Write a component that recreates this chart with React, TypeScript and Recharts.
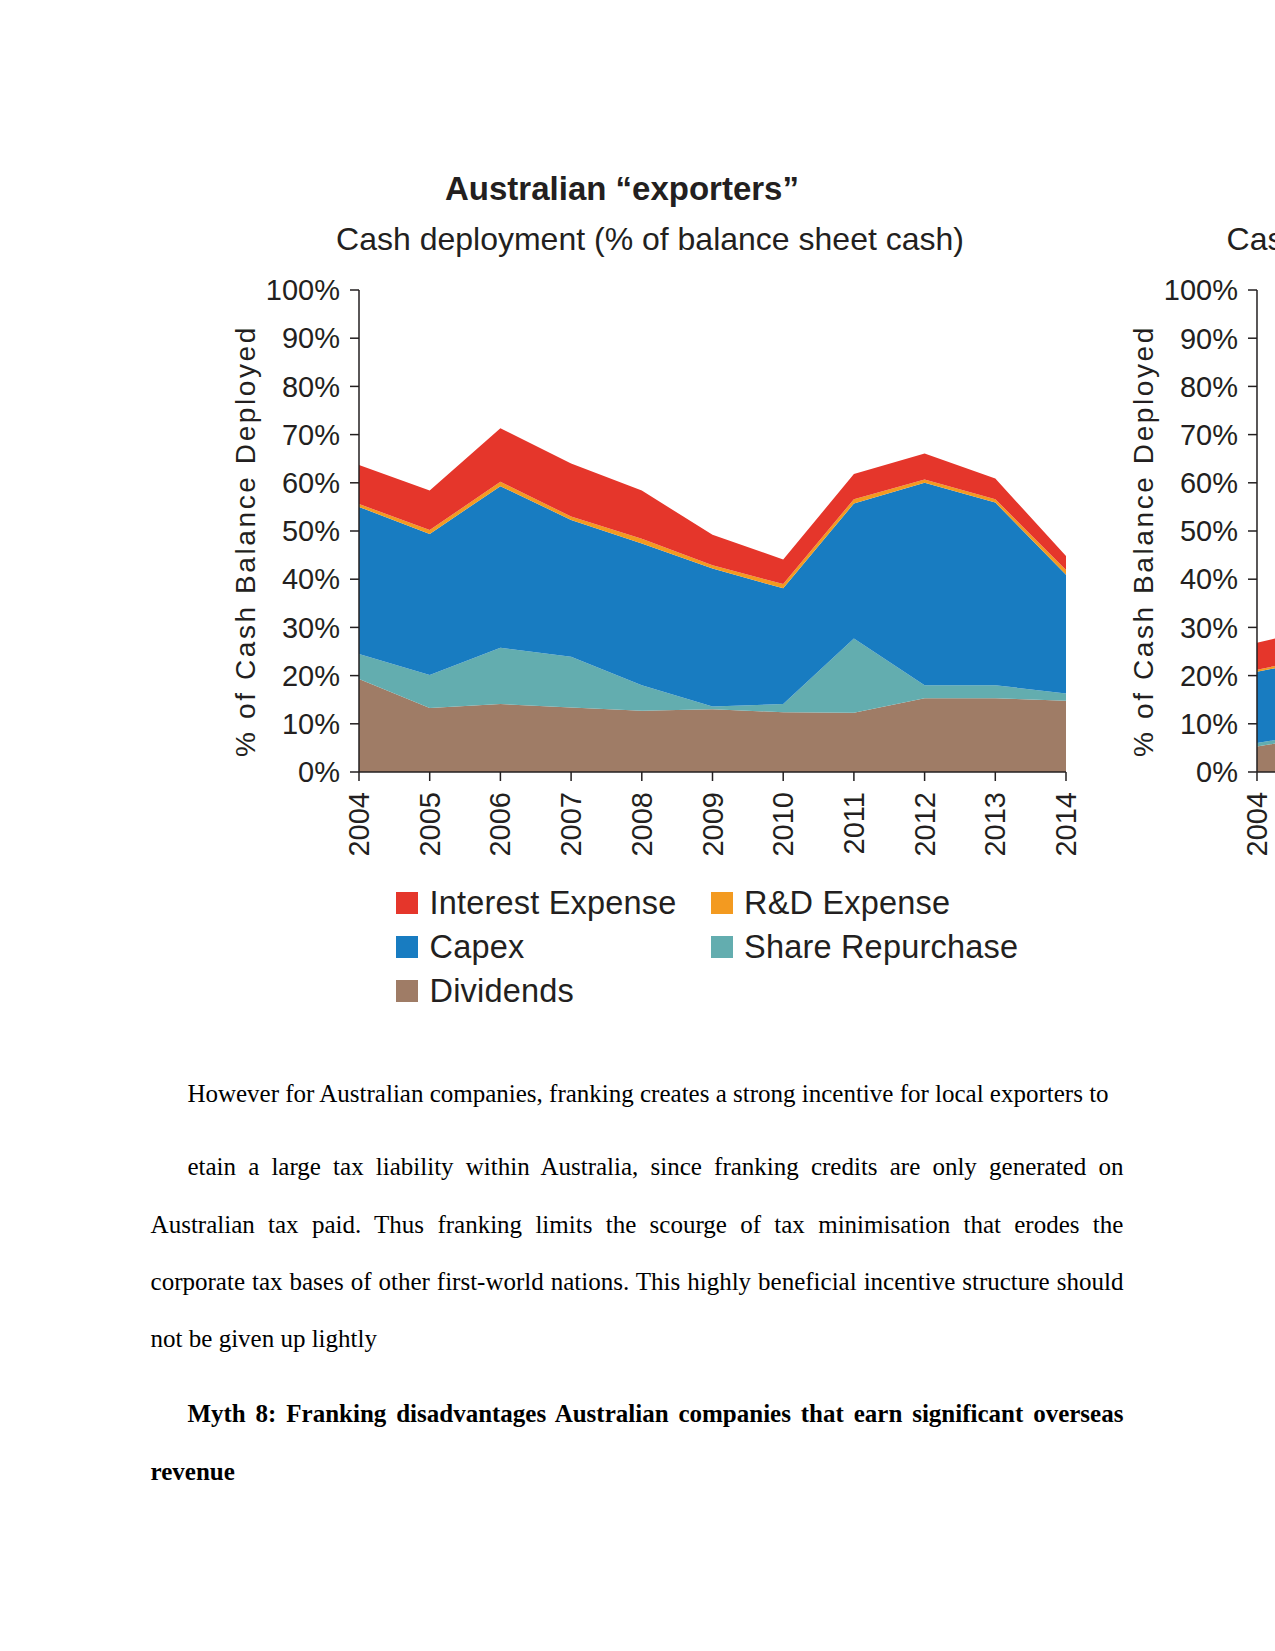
import { Area, AreaChart, XAxis, YAxis } from "recharts";

// Main chart: Australian "exporters", share of balance sheet cash (%)
const years = ["2004", "2005", "2006", "2007", "2008", "2009", "2010", "2011", "2012", "2013", "2014"];
const dividends = [19.3, 13.3, 14.1, 13.4, 12.7, 13.0, 12.4, 12.3, 15.3, 15.3, 14.8];
const shareRepurchase = [5.2, 6.8, 11.7, 10.5, 5.3, 0.6, 1.7, 15.4, 2.7, 2.7, 1.5];
const capex = [30.5, 29.3, 33.5, 28.4, 29.4, 28.6, 24.0, 28.0, 42.0, 37.9, 24.6];
const rdExpense = [0.6, 0.8, 0.9, 0.7, 1.0, 0.7, 0.9, 0.9, 0.7, 0.7, 1.0];
const interestExpense = [8.1, 8.2, 11.1, 11.0, 10.0, 6.3, 5.1, 5.2, 5.4, 4.3, 2.9];

// Second chart, cut off by the page edge: only its first stretch shows
const rightYears = ["2004", "2005"];
const rightDividends = [5.3, 7.6];
const rightRepurchase = [0.7, 0.8];
const rightCapex = [14.8, 15.3];
const rightRd = [0.4, 0.6];
const rightInterest = [5.6, 6.0];

const yTicks = [0, 10, 20, 30, 40, 50, 60, 70, 80, 90, 100];

const INK = "#231f20";
const SANS = "'Liberation Sans', Arial, Helvetica, sans-serif";
const SERIF = "'Liberation Serif', 'Times New Roman', serif";

// stacking order bottom -> top
const series = [
  { key: "dividends", name: "Dividends", color: "#9f7c66" },
  { key: "repurchase", name: "Share Repurchase", color: "#63adaf" },
  { key: "capex", name: "Capex", color: "#187cc1" },
  { key: "rd", name: "R&D Expense", color: "#f39a20" },
  { key: "interest", name: "Interest Expense", color: "#e5362b" },
];

// legend reads row by row, two columns
const legendOrder = ["interest", "rd", "capex", "repurchase", "dividends"];

interface Row {
  year: string;
  dividends: number;
  repurchase: number;
  capex: number;
  rd: number;
  interest: number;
}

function buildRows(
  yrs: string[], div: number[], rep: number[], cap: number[], rd: number[], int: number[]
): Row[] {
  return yrs.map((year, i) => ({
    year,
    dividends: div[i],
    repurchase: rep[i],
    capex: cap[i],
    rd: rd[i],
    interest: int[i],
  }));
}

const mainRows = buildRows(years, dividends, shareRepurchase, capex, rdExpense, interestExpense);
const rightRows = buildRows(rightYears, rightDividends, rightRepurchase, rightCapex, rightRd, rightInterest);

const CHART_TOP = 150;
const CHART_H = 750;
const MARGIN = { top: 140, right: 34, bottom: 28, left: 59 };
const Y_AXIS_W = 100;
const STEP = 70.7; // px between years

function YearTick({ x, y, payload }: { x?: number; y?: number; payload?: { value: string } }) {
  return (
    <text
      x={x}
      y={y}
      transform={`rotate(-90 ${x} ${y})`}
      textAnchor="end"
      dominantBaseline="central"
      fontSize={29}
      fontFamily={SANS}
      fill={INK}
    >
      {payload?.value}
    </text>
  );
}

function CashChart({ rows, left, steps }: { rows: Row[]; left: number; steps: number }) {
  const width = MARGIN.left + Y_AXIS_W + steps * STEP + MARGIN.right;
  const axisX = MARGIN.left + Y_AXIS_W;
  const plotTop = MARGIN.top;
  const plotBottom = CHART_H - MARGIN.bottom - 100;
  const labelX = axisX - 104;
  const labelY = (plotTop + plotBottom) / 2 + 10;
  return (
    <div style={{ position: "absolute", left, top: CHART_TOP, width, height: CHART_H }}>
      <AreaChart width={width} height={CHART_H} data={rows} margin={MARGIN}>
        <XAxis
          dataKey="year"
          interval={0}
          height={100}
          tickSize={9}
          tickMargin={11}
          axisLine={{ stroke: INK, strokeWidth: 1.5 }}
          tickLine={{ stroke: INK, strokeWidth: 1.5 }}
          tick={(p: any) => <YearTick {...p} />}
        />
        <YAxis
          type="number"
          domain={[0, 100]}
          ticks={yTicks}
          width={Y_AXIS_W}
          tickSize={9}
          tickMargin={10}
          tickFormatter={(v: number) => `${v}%`}
          axisLine={{ stroke: INK, strokeWidth: 1.5 }}
          tickLine={{ stroke: INK, strokeWidth: 1.5 }}
          tick={{ fontSize: 29, fill: INK, fontFamily: SANS }}
        />
        {series.map((s) => (
          <Area
            key={s.key}
            type="linear"
            dataKey={s.key}
            name={s.name}
            stackId="cash"
            stroke="none"
            fill={s.color}
            fillOpacity={1}
            dot={false}
            activeDot={false}
            isAnimationActive={false}
          />
        ))}
      </AreaChart>
      <svg
        width={width}
        height={CHART_H}
        style={{ position: "absolute", left: 0, top: 0, pointerEvents: "none" }}
      >
        <text
          x={labelX}
          y={labelY}
          transform={`rotate(-90 ${labelX} ${labelY})`}
          textAnchor="middle"
          fontSize={28}
          letterSpacing={2.6}
          fontFamily={SANS}
          fill={INK}
        >
          % of Cash Balance Deployed
        </text>
      </svg>
    </div>
  );
}

// place a single line of text by its baseline
function SansText({
  x, baseline, size, bold, spacing, children,
}: {
  x: number; baseline: number; size: number; bold?: boolean; spacing?: number; children: React.ReactNode;
}) {
  return (
    <div
      style={{
        position: "absolute",
        left: x,
        top: baseline - 0.8465 * size,
        fontFamily: SANS,
        fontSize: size,
        lineHeight: `${size}px`,
        fontWeight: bold ? 700 : 400,
        letterSpacing: spacing ?? 0,
        color: INK,
        whiteSpace: "nowrap",
      }}
    >
      {children}
    </div>
  );
}

function CenteredText({
  cx, baseline, size, bold, children,
}: { cx: number; baseline: number; size: number; bold?: boolean; children: React.ReactNode }) {
  return (
    <div
      style={{
        position: "absolute",
        left: cx - 500,
        width: 1000,
        textAlign: "center",
        top: baseline - 0.8465 * size,
        fontFamily: SANS,
        fontSize: size,
        lineHeight: `${size}px`,
        fontWeight: bold ? 700 : 400,
        color: INK,
        whiteSpace: "nowrap",
      }}
    >
      {children}
    </div>
  );
}

const TEXT_LEFT = 150.6;
const TEXT_RIGHT = 1123.4;
const INDENT = 187.4;

function BodyLine({
  x, baseline, justify, bold, children,
}: { x: number; baseline: number; justify?: boolean; bold?: boolean; children: React.ReactNode }) {
  return (
    <div
      style={{
        position: "absolute",
        left: x,
        width: TEXT_RIGHT - x,
        top: baseline - 0.8375 * 25,
        fontFamily: SERIF,
        fontSize: 25,
        lineHeight: "25px",
        fontWeight: bold ? 700 : 400,
        color: "#000",
        textAlign: justify ? "justify" : "left",
        textAlignLast: justify ? "justify" : "left",
      }}
    >
      {children}
    </div>
  );
}

function Legend() {
  const cols = [396, 710.5];
  const rowsY = [892, 936, 980];
  return (
    <>
      {legendOrder.map((key, i) => {
        const s = series.find((d) => d.key === key)!;
        const col = cols[i % 2];
        const top = rowsY[Math.floor(i / 2)];
        return (
          <div key={key}>
            <div
              style={{
                position: "absolute",
                left: col,
                top,
                width: 22,
                height: 21.5,
                background: s.color,
              }}
            />
            <SansText x={col + 33.5} baseline={top + 23} size={32.5} spacing={0.2}>
              {s.name}
            </SansText>
          </div>
        );
      })}
    </>
  );
}

export default function App() {
  return (
    <div
      style={{
        position: "absolute",
        left: 0,
        top: 0,
        width: 1275,
        height: 1651,
        overflow: "hidden",
        background: "#fff",
      }}
    >
      <CenteredText cx={622} baseline={199.5} size={33} bold>
        Australian “exporters”
      </CenteredText>
      <CenteredText cx={650} baseline={250} size={32}>
        Cash deployment (% of balance sheet cash)
      </CenteredText>
      <SansText x={1226.6} baseline={250} size={32}>
        Cash deployment (% of balance sheet cash)
      </SansText>

      <CashChart rows={mainRows} left={359 - MARGIN.left - Y_AXIS_W} steps={years.length - 1} />
      <CashChart rows={rightRows} left={1257 - MARGIN.left - Y_AXIS_W} steps={rightYears.length - 1} />

      <Legend />

      <BodyLine x={INDENT} baseline={1101.7}>
        However for Australian companies, franking creates a strong incentive for local exporters to
      </BodyLine>
      <BodyLine x={INDENT} baseline={1175} justify>
        etain a large tax liability within Australia, since franking credits are only generated on
      </BodyLine>
      <BodyLine x={TEXT_LEFT} baseline={1232.6} justify>
        Australian tax paid. Thus franking limits the scourge of tax minimisation that erodes the
      </BodyLine>
      <BodyLine x={TEXT_LEFT} baseline={1290} justify>
        corporate tax bases of other first-world nations. This highly beneficial incentive structure should
      </BodyLine>
      <BodyLine x={TEXT_LEFT} baseline={1347.3}>
        not be given up lightly
      </BodyLine>
      <BodyLine x={INDENT} baseline={1421.7} justify bold>
        Myth 8: Franking disadvantages Australian companies that earn significant overseas
      </BodyLine>
      <BodyLine x={TEXT_LEFT} baseline={1479.5} bold>
        revenue
      </BodyLine>
    </div>
  );
}
